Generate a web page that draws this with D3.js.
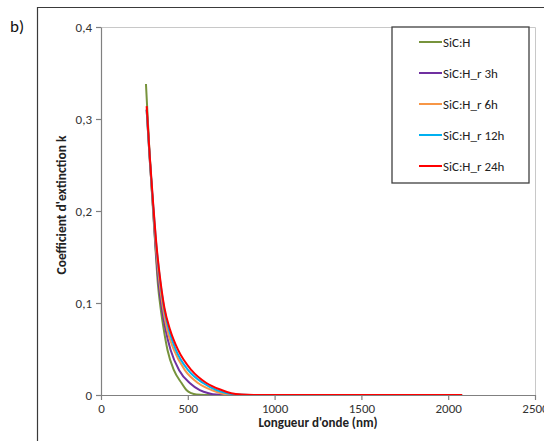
<!DOCTYPE html>
<html><head><meta charset="utf-8">
<script src="https://cdn.jsdelivr.net/npm/d3@7"></script>
<style>body{margin:0;background:#fff}svg{display:block}</style>
</head><body>
<svg id="c" width="544" height="441"></svg>
<script>
const seriesNames = ["SiC:H","SiC:H_r 3h","SiC:H_r 6h","SiC:H_r 12h","SiC:H_r 24h"];
const seriesColors = ["#77933C","#7030A0","#F79646","#00B0F0","#FF0000"];
const wlSiCH   = [259,277,295,312,328,343,360,383,420,464,492,520,550,600,2080];
const kSiCH    = [0.338,0.272,0.215,0.165,0.12,0.095,0.073,0.049,0.027,0.013,0.0054,0.002,0.0005,0,0];
const wlR3h    = [263,280,297,313,330,350,372,401,450,511,569,620,665,750,2080];
const kR3h     = [0.31,0.258,0.212,0.165,0.125,0.095,0.071,0.049,0.027,0.013,0.0054,0.002,0.0005,0,0];
const wlR6h    = [263,280,297,315,334,355,381,420,483,559,636,690,740,820,2080];
const kR6h     = [0.31,0.258,0.212,0.165,0.127,0.097,0.071,0.049,0.027,0.013,0.0054,0.002,0.0005,0,0];
const wlR12h   = [263,280,298,317,338,361,391,431,502,588,665,725,785,860,2080];
const kR12h    = [0.31,0.26,0.212,0.166,0.128,0.097,0.071,0.049,0.027,0.013,0.0054,0.002,0.0005,0,0];
const wlR24h   = [263,280,299,320,343,366,398,444,521,607,694,750,810,880,2080];
const kR24h    = [0.314,0.262,0.212,0.162,0.123,0.094,0.071,0.049,0.027,0.013,0.0054,0.002,0.0005,0,0];
const xTicks = [0,500,1000,1500,2000,2500];
const yTicks = [0,0.1,0.2,0.3,0.4];
const xTitle = "Longueur d'onde (nm)";
const yTitle = "Coefficient d'extinction k";
const panelLabel = "b)";

const wls = [wlSiCH,wlR3h,wlR6h,wlR12h,wlR24h];
const ks = [kSiCH,kR3h,kR6h,kR12h,kR24h];
const series = seriesNames.map((n,i)=>({name:n,color:seriesColors[i],pts:wls[i].map((w,j)=>[w,ks[i][j]])}));

const svg = d3.select("#c");
const font = "Calibri, Carlito, 'Open Sans', sans-serif";
const L=101,R=535,T=27,B=395;
const x = d3.scaleLinear().domain([0,2500]).range([L,R]);
const y = d3.scaleLinear().domain([0,0.4]).range([B,T]);

// outer frame
svg.append("path").attr("d",`M37.5,441 V7.5 H544`).attr("fill","none").attr("stroke","#3a3a3a").attr("stroke-width",1.2);
svg.append("text").attr("x",10).attr("y",32).text(panelLabel).attr("font-family",font).attr("font-size",17).attr("fill","#111");

// plot area border (top/right light)
svg.append("path").attr("d",`M${L},${T+0.5} H${R+0.5} V${B}`).attr("fill","none").attr("stroke","#c8c8c8").attr("stroke-width",1);

// lines
const line = d3.line().x(d=>x(d[0])).y(d=>y(d[1])).curve(d3.curveMonotoneX);
svg.append("g").selectAll("path").data(series).join("path")
  .attr("d",d=>line(d.pts)).attr("fill","none").attr("stroke",d=>d.color).attr("stroke-width",2);

// axes
const fmtY = v => v===0 ? "0" : v.toFixed(1).replace(".",",");
const yAx = svg.append("g").attr("transform",`translate(${L},0)`)
  .call(d3.axisLeft(y).tickValues(yTicks).tickFormat(fmtY).tickSize(5).tickSizeOuter(0));
const xAx = svg.append("g").attr("transform",`translate(0,${B})`)
  .call(d3.axisBottom(x).tickValues(xTicks).tickFormat(d=>String(d)).tickSize(5).tickSizeOuter(0));
[yAx,xAx].forEach(g=>{
  g.select(".domain").attr("stroke","#808080").attr("stroke-width",1.2);
  g.selectAll(".tick line").attr("stroke","#808080").attr("stroke-width",1.2);
  g.selectAll(".tick text").attr("font-family",font).attr("font-size",13).attr("fill","#333");
});
yAx.selectAll(".tick text").attr("x",-9);
xAx.selectAll(".tick text").attr("y",9);

svg.append("text").attr("x",318).attr("y",427).attr("text-anchor","middle").text(xTitle)
  .attr("font-family",font).attr("font-size",13).attr("font-weight","bold").attr("fill","#222");
svg.append("text").attr("transform","translate(66,205) rotate(-90)").attr("text-anchor","middle").text(yTitle)
  .attr("font-family",font).attr("font-size",13.5).attr("font-weight","bold").attr("fill","#222");

// legend
svg.append("rect").attr("x",392).attr("y",27).attr("width",137).attr("height",156)
  .attr("fill","#fff").attr("stroke","#404040").attr("stroke-width",1.3);
const lg = svg.append("g").selectAll("g").data(series).join("g")
  .attr("transform",(d,i)=>`translate(0,${42+i*31})`);
lg.append("line").attr("x1",419).attr("x2",442).attr("y1",0).attr("y2",0).attr("stroke",d=>d.color).attr("stroke-width",2);
lg.append("text").attr("x",443).attr("y",4.5).text(d=>d.name).attr("font-family",font).attr("font-size",13).attr("fill","#222");
</script>
</body></html>
